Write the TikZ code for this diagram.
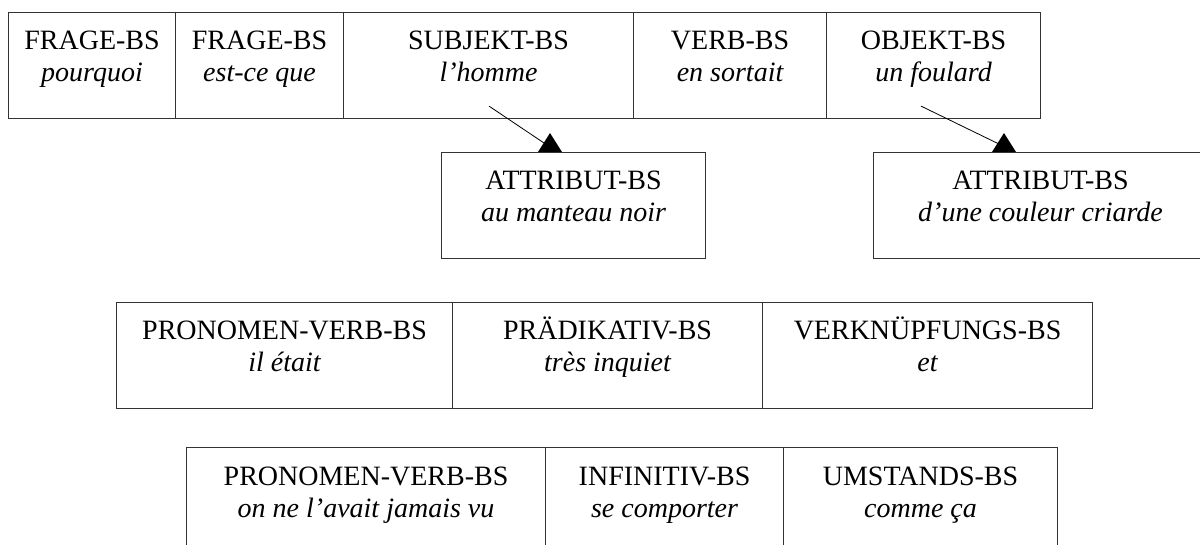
\documentclass[tikz,border=0pt]{standalone}
\usepackage{fontspec}
\setmainfont{Liberation Serif}
\usetikzlibrary{calc}
\tikzset{
  box/.style={draw=black!80, line width=1.1pt, inner sep=0pt, minimum height=106pt},
  lab/.style={anchor=base, inner sep=0pt, font=\fontsize{28}{32}\selectfont},
  itl/.style={anchor=base, inner sep=0pt, font=\fontsize{28}{32}\selectfont\itshape},
  conn/.style={draw=black, line width=0.8pt},
  tip/.style={fill=black}
}
% name, left, right, top, label, italic
\newcommand{\bsbox}[6]{%
  \node[box, anchor=north west, minimum width={#3pt-#2pt}] (#1) at (#2,#4) {};
  \node[lab] (#1-l) at ($(#1.north)+(0,38)$) {#5};
  \node[itl] (#1-i) at ($(#1.north)+(0,70)$) {#6};
}
\begin{document}
\begin{tikzpicture}[x=1pt,y=-1pt]
\useasboundingbox (0,0) rectangle (1200,545);
\clip (0,0) rectangle (1200,545);
% top row
\bsbox{f1}{8}{175}{12}{FRAGE-BS}{pourquoi}
\bsbox{f2}{175}{343}{12}{FRAGE-BS}{est-ce que}
\bsbox{subj}{343}{633}{12}{SUBJEKT-BS}{l’homme}
\bsbox{verb}{633}{826}{12}{VERB-BS}{en sortait}
\bsbox{obj}{826}{1040}{12}{OBJEKT-BS}{un foulard}
% attributes
\bsbox{attr1}{441}{705}{152}{ATTRIBUT-BS}{au manteau noir}
\bsbox{attr2}{873}{1207}{152}{ATTRIBUT-BS}{d’une couleur criarde}
% second row
\bsbox{pv1}{116}{452}{302}{PRONOMEN-VERB-BS}{il était}
\bsbox{praed}{452}{762}{302}{PRÄDIKATIV-BS}{très inquiet}
\bsbox{verkn}{762}{1092}{302}{VERKNÜPFUNGS-BS}{et}
% third row
\bsbox{pv2}{186}{545}{447}{PRONOMEN-VERB-BS}{on ne l’avait jamais vu}
\bsbox{inf}{545}{783}{447}{INFINITIV-BS}{se comporter}
\bsbox{umst}{783}{1057}{447}{UMSTANDS-BS}{comme ça}
% connectors
\coordinate (s1) at ($(subj.south west)+(146,-13)$);
\coordinate (t1) at ($(attr1.north west)+(109,0)$);
\coordinate (s2) at ($(obj.south west)+(95,-13)$);
\coordinate (t2) at ($(attr2.north west)+(131,0)$);
\draw[conn] (s1) -- ($(t1)+(-3,-7)$);
\fill[tip] ($(t1)+(0,-19)$) -- ($(t1)+(-12,0)$) -- ($(t1)+(12,0)$) -- cycle;
\draw[conn] (s2) -- ($(t2)+(-3,-7)$);
\fill[tip] ($(t2)+(0,-19)$) -- ($(t2)+(-12,0)$) -- ($(t2)+(12,0)$) -- cycle;
\end{tikzpicture}
\end{document}
